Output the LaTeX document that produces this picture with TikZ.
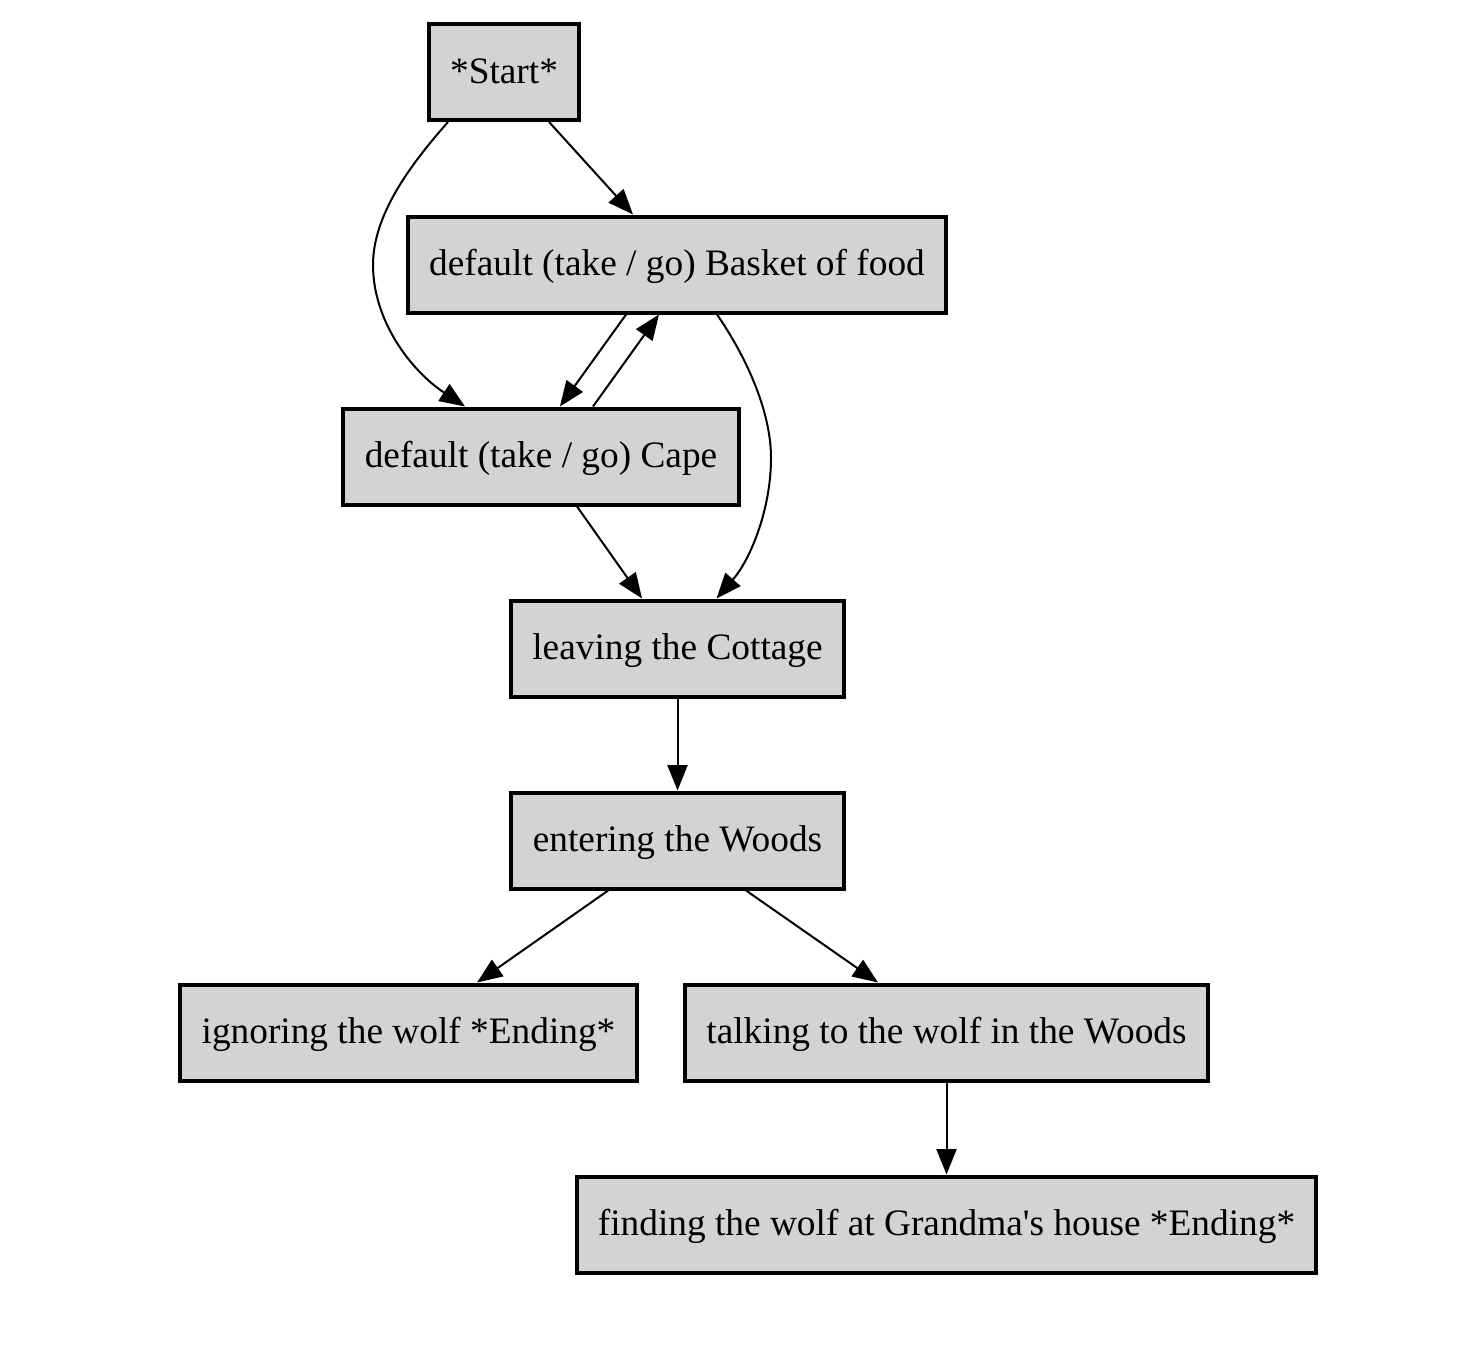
\documentclass[tikz,border=0pt]{standalone}
\usepackage{fontspec}
\setmainfont{Liberation Serif}
\usetikzlibrary{arrows.meta}
\definecolor{boxgray}{RGB}{211,211,211}
\tikzset{
	state/.style={draw, fill=boxgray, line width=1.5pt, minimum height=36pt, inner xsep=8pt, text height=11.5pt, text depth=3pt, font=\fontsize{14}{16}\selectfont},
	link/.style={-{Triangle[length=9.5pt,width=7.5pt]}, line width=0.75pt}
}
\begin{document}
\begin{tikzpicture}[x=0.375pt,y=-0.375pt]
		\useasboundingbox (0,0) rectangle (1484,1370);
		\node[state] (start) at (504,72) {*Start*};
		\node[state] (basket) at (677,264.5) {default (take / go) Basket of food};
		\node[state] (cape) at (541,456.5) {default (take / go) Cape};
		\node[state] (cottage) at (677.5,648.5) {leaving the Cottage};
		\node[state] (woods) at (677.5,840.5) {entering the Woods};
		\node[state] (ignore) at (408.5,1032.5) {ignoring the wolf *Ending*};
		\node[state] (talk) at (946.5,1032.5) {talking to the wolf in the Woods};
		\node[state] (grandma) at (946.5,1224.5) {finding the wolf at Grandma\textquotesingle s house *Ending*};
		\draw[link] ([xshift=16.9pt]start.south) -- ([xshift=-16.5pt]basket.north);
		\draw[link] ([xshift=-21pt]start.south) .. controls (410,165) and (373,215) .. (373,265)
			.. controls (373,320) and (410,370) .. ([xshift=-28.5pt]cape.north);
		\draw[link] ([xshift=-19.1pt]basket.south) -- ([xshift=7.1pt]cape.north);
		\draw[link] ([xshift=19.5pt]cape.north) -- ([xshift=-6.75pt]basket.south);
		\draw[link] ([xshift=15pt]basket.south) .. controls (745,355) and (771,410) .. (771,458)
			.. controls (771,510) and (750,560) .. ([xshift=14.6pt]cottage.north);
		\draw[link] ([xshift=13.5pt]cape.south) -- ([xshift=-13.3pt]cottage.north);
		\draw[link] (cottage) -- (woods);
		\draw[link] ([xshift=-26pt]woods.south) -- ([xshift=25.7pt]ignore.north);
		\draw[link] ([xshift=25.7pt]woods.south) -- ([xshift=-25.7pt]talk.north);
		\draw[link] (talk) -- (grandma);
	\end{tikzpicture}
\end{document}
